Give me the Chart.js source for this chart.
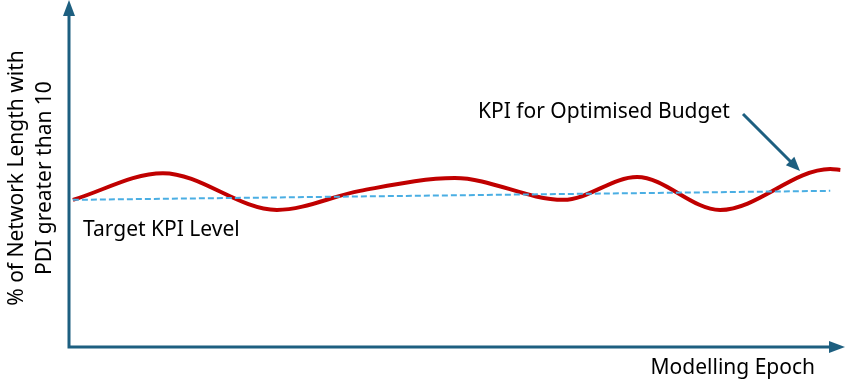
<!DOCTYPE html>
<html>
<head>
<meta charset="utf-8">
<script src="https://cdn.jsdelivr.net/npm/chart.js@4.4.1/dist/chart.umd.min.js"></script>
<style>
  html, body { margin: 0; padding: 0; background: #ffffff; }
  #wrap { width: 855px; height: 390px; position: relative; }
</style>
</head>
<body>
<div id="wrap"><canvas id="kpiChart"></canvas></div>
<script>
// epoch positions (0-100) and KPI values (% of network length, 0-100)
const epochX = [0.5, 12.1, 26.8, 37.5, 49.7, 63.7, 73.2, 83.9, 98.1, 99.4];
const kpiValues = [42.4, 50.1, 39.5, 45.0, 48.7, 42.4, 49.0, 39.5, 51.3, 51.0];
const targetX = [0.5, 98.1];
const targetValues = [42.4, 45.0];

const xTitle = "Modelling Epoch";
const yTitle = ["% of Network Length with", "PDI greater than 10"];
const kpiLabel = "KPI for Optimised Budget";
const targetLabel = "Target KPI Level";

const axisColor = "#1d5f80";
const fontFamily = "'Noto Sans', 'Open Sans', sans-serif";

const toPoints = (xs, ys) => xs.map((x, i) => ({ x: x, y: ys[i] }));

const arrowHead = (ctx, x, y, angle, len, half) => {
    ctx.save();
    ctx.translate(x, y);
    ctx.rotate(angle);
    ctx.beginPath();
    ctx.moveTo(0, 0);
    ctx.lineTo(-len, -half);
    ctx.lineTo(-len, half);
    ctx.closePath();
    ctx.fill();
    ctx.restore();
};

// axes with arrow heads + annotation texts
const decorations = {
    id: "decorations",
    beforeDatasetsDraw(chart) {
        const { ctx, chartArea } = chart;
        const { left, right, top, bottom } = chartArea;
        ctx.save();
        ctx.strokeStyle = axisColor;
        ctx.fillStyle = axisColor;
        ctx.lineWidth = 3;
        ctx.beginPath();
        ctx.moveTo(left, top + 14);
        ctx.lineTo(left, bottom);
        ctx.lineTo(right - 10, bottom);
        ctx.stroke();
        arrowHead(ctx, left, top, -Math.PI / 2, 16, 6);
        arrowHead(ctx, right, bottom, 0, 16, 6);
        ctx.restore();
    },
    afterDatasetsDraw(chart) {
        const { ctx } = chart;
        ctx.save();
        ctx.fillStyle = "#000000";
        ctx.font = "21px " + fontFamily;
        ctx.textBaseline = "middle";
        ctx.textAlign = "left";
        ctx.fillText(kpiLabel, 478, 112);
        ctx.fillText(targetLabel, 83, 230);
        ctx.textAlign = "right";
        ctx.fillText(xTitle, 815, 368);

        ctx.save();
        ctx.translate(31, 178);
        ctx.rotate(-Math.PI / 2);
        ctx.textAlign = "center";
        ctx.fillText(yTitle[0], 0, -14);
        ctx.fillText(yTitle[1], 0, 14);
        ctx.restore();

        // pointer arrow to KPI curve
        ctx.strokeStyle = axisColor;
        ctx.fillStyle = axisColor;
        ctx.lineWidth = 3;
        const x0 = 743, y0 = 114, x1 = 800, y1 = 171;
        const ang = Math.atan2(y1 - y0, x1 - x0);
        ctx.beginPath();
        ctx.moveTo(x0, y0);
        ctx.lineTo(x1 - 12 * Math.cos(ang), y1 - 12 * Math.sin(ang));
        ctx.stroke();
        arrowHead(ctx, x1, y1, ang, 14, 6);
        ctx.restore();
    }
};

new Chart(document.getElementById("kpiChart"), {
    type: "line",
    data: {
        datasets: [
            {
                label: targetLabel,
                data: toPoints(targetX, targetValues),
                borderColor: "#4aaee3",
                borderWidth: 2,
                borderDash: [6, 3],
                pointRadius: 0,
                fill: false
            },
            {
                label: kpiLabel,
                data: toPoints(epochX, kpiValues),
                borderColor: "#c00000",
                borderWidth: 4,
                cubicInterpolationMode: "monotone",
                pointRadius: 0,
                fill: false
            }
        ]
    },
    options: {
        responsive: true,
        maintainAspectRatio: false,
        animation: false,
        layout: { padding: { left: 69, right: 10, top: 0, bottom: 43 } },
        plugins: { legend: { display: false }, tooltip: { enabled: false } },
        scales: {
            x: { type: "linear", min: 0, max: 100, display: false },
            y: { min: 0, max: 100, display: false }
        }
    },
    plugins: [decorations]
});
</script>
</body>
</html>
